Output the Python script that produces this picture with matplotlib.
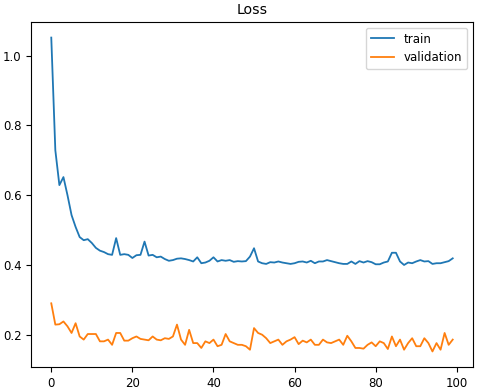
import matplotlib
matplotlib.use("Agg")
import matplotlib.pyplot as plt

epochs = list(range(100))

train = [1.052, 0.729, 0.629, 0.652, 0.600, 0.543, 0.509, 0.480, 0.471, 0.474,
         0.463, 0.449, 0.441, 0.437, 0.431, 0.429, 0.477, 0.429, 0.431, 0.429,
         0.420, 0.428, 0.429, 0.467, 0.427, 0.429, 0.422, 0.424, 0.417, 0.412,
         0.414, 0.418, 0.419, 0.417, 0.414, 0.410, 0.422, 0.405, 0.407, 0.412,
         0.422, 0.410, 0.414, 0.412, 0.414, 0.409, 0.411, 0.410, 0.411, 0.424,
         0.448, 0.410, 0.405, 0.403, 0.408, 0.407, 0.410, 0.407, 0.405, 0.403,
         0.405, 0.409, 0.410, 0.407, 0.412, 0.405, 0.410, 0.410, 0.414, 0.411,
         0.408, 0.405, 0.403, 0.403, 0.410, 0.403, 0.411, 0.407, 0.411, 0.408,
         0.402, 0.402, 0.407, 0.410, 0.435, 0.435, 0.410, 0.400, 0.407, 0.405,
         0.410, 0.414, 0.410, 0.411, 0.403, 0.405, 0.405, 0.408, 0.411, 0.419]

validation = [0.290, 0.229, 0.230, 0.238, 0.224, 0.205, 0.233, 0.195, 0.186, 0.202,
              0.202, 0.202, 0.181, 0.181, 0.186, 0.171, 0.205, 0.205, 0.183, 0.183,
              0.190, 0.195, 0.188, 0.186, 0.184, 0.195, 0.186, 0.184, 0.190, 0.188,
              0.195, 0.229, 0.186, 0.171, 0.214, 0.176, 0.176, 0.162, 0.181, 0.176,
              0.186, 0.167, 0.171, 0.202, 0.181, 0.176, 0.171, 0.171, 0.167, 0.157,
              0.219, 0.205, 0.200, 0.190, 0.176, 0.181, 0.186, 0.171, 0.181, 0.186,
              0.193, 0.173, 0.183, 0.178, 0.186, 0.171, 0.171, 0.186, 0.178, 0.176,
              0.181, 0.186, 0.171, 0.197, 0.181, 0.162, 0.162, 0.160, 0.171, 0.178,
              0.167, 0.181, 0.176, 0.159, 0.195, 0.167, 0.186, 0.157, 0.176, 0.190,
              0.167, 0.167, 0.190, 0.176, 0.152, 0.176, 0.157, 0.205, 0.171, 0.186]

plt.rcParams['font.size'] = 8.5

fig, ax = plt.subplots(figsize=(4.8, 3.91), dpi=100)
fig.subplots_adjust(left=0.065, right=0.985, bottom=0.061, top=0.944)

ax.plot(epochs, train, label='train', color='tab:blue', linewidth=1.3)
ax.plot(epochs, validation, label='validation', color='tab:orange', linewidth=1.3)

ax.set_title('Loss', fontsize=10.2)
ax.set_xticks([0, 20, 40, 60, 80, 100])
ax.set_yticks([0.2, 0.4, 0.6, 0.8, 1.0])
ax.legend(loc='upper right')

fig.savefig('out.png')
